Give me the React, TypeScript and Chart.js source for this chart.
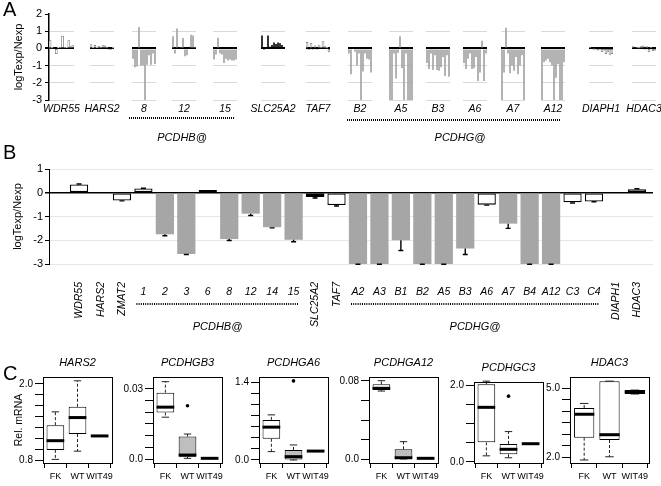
import React, { useEffect, useRef } from 'react';
import { Chart, registerables } from 'chart.js';

Chart.register(...registerables);
const FONT = '"Liberation Sans", Arial, Helvetica, sans-serif';
Chart.defaults.font.family = FONT;
Chart.defaults.color = '#000';

// ---------------- Panel A data ----------------
const groupsA = ['WDR55', 'HARS2', '8', '12', '15', 'SLC25A2', 'TAF7', 'B2', 'A5', 'B3', 'A6', 'A7', 'A12', 'DIAPH1', 'HDAC3'];
const kindA = ['outline', 'outline', 'gray', 'gray', 'gray', 'black', 'outline', 'gray', 'gray', 'gray', 'gray', 'gray', 'gray', 'outline', 'outline'];
const wdr55A = [0.45, 0.02, 0.0, -0.3, 0.03, 0.05, 0.72, 0.05, 0.04, 0.45, 0.1, 0.2];
const hars2A = [0.22, 0.04, 0.18, 0.03, 0.12, 0.05, 0.2, 0.15, 0.05, -0.05, -0.08, 0.02];
const pcdhb8A = [-0.6, -1.1, -1.05, 1.25, -1.0, -1.0, -3.0, -0.95, -0.4, -0.95, -0.3, -0.9];
const pcdhb12A = [0.7, -0.3, 1.15, 0.05, 0.03, 0.6, -0.45, -0.4, 0.05, 0.8, 0.75, 0.02];
const pcdhb15A = [-0.65, -0.35, 0.62, -0.3, -0.35, -0.85, -0.6, -0.7, -0.65, -0.7, -0.7, -0.65];
const slc25a2A = [0.75, -0.1, 0.02, 0.75, 0.1, 0.2, 0.35, 0.25, 0.35, 0.3, 0.2, 0.05];
const taf7A = [0.35, -0.08, 0.3, -0.05, 0.15, -0.05, 0.2, 0.05, 0.4, 0.1, 0.02, -0.2];
const pcdhgB2A = [-0.3, -1.5, 0.05, -0.2, -1.0, -0.3, -3.0, -1.35, -0.3, -0.6, -0.65, -1.4];
const pcdhgA5A = [-3.0, -3.0, -0.3, -1.75, -0.25, 0.7, -1.15, -3.0, -0.3, -3.0, -3.0, -3.0];
const pcdhgB3A = [-0.85, -1.2, -0.3, -1.25, -0.4, -1.25, -1.3, -1.1, -0.5, -1.6, -0.4, -1.65];
const pcdhgA6A = [-0.85, -1.2, -0.6, -0.3, -1.2, -1.15, -0.5, -1.9, -1.4, 0.45, -1.9, -0.3];
const pcdhgA7A = [-3.0, -1.4, 1.2, -0.3, -1.45, -1.0, -1.3, -0.5, -1.5, -1.0, -0.4, -3.0];
const pcdhgA12A = [-3.0, -0.8, -0.7, -0.6, -0.8, -1.0, -3.0, -1.7, -0.9, -3.0, -3.0, -0.8];
const diaph1A = [0.05, 0.0, -0.03, -0.05, -0.1, -0.05, -0.2, -0.1, -0.3, -0.2, -0.35, -0.3];
const hdac3A = [0.1, 0.0, 0.05, 0.02, 0.1, 0.15, -0.05, 0.1, -0.2, 0.05, -0.15, -0.1];
const valuesA = [wdr55A, hars2A, pcdhb8A, pcdhb12A, pcdhb15A, slc25a2A, taf7A, pcdhgB2A, pcdhgA5A, pcdhgB3A, pcdhgA6A, pcdhgA7A, pcdhgA12A, diaph1A, hdac3A];
const yTicksA = [2, 1, 0, -1, -2, -3];

// layout of panel A (pixels)
const groupLeftA = [49, 90, 132, 172, 213, 261, 306, 348, 389, 426, 463, 501, 541, 589, 632];
const GROUP_W = 24;
const PADX = 26;

// ---------------- Panel B data ----------------
const pcdhbB = ['1', '2', '3', '6', '8', '12', '14', '15'];
const pcdhgB = ['A2', 'A3', 'B1', 'B2', 'A5', 'B3', 'A6', 'A7', 'B4', 'A12', 'C3', 'C4'];
const geneB = ['WDR55', 'HARS2', 'ZMAT2', ...pcdhbB, 'SLC25A2', 'TAF7', ...pcdhgB, 'DIAPH1', 'HDAC3'];
const valueB = [0.35, 0.02, -0.33, 0.18, -1.75, -2.58, 0.12, -1.95, -0.88, -1.45, -1.98, -0.18, -0.52, -3, -3, -2.0, -3, -3, -2.35, -0.5, -1.3, -3, -3, -0.4, -0.37, 0.02, 0.15];
const errB = [0.02, 0, 0.01, 0.01, 0.06, 0.02, 0, 0.06, 0.08, 0.03, 0.08, 0.04, 0.04, 0.01, 0.01, 0.43, 0.01, 0.01, 0.25, 0.02, 0.2, 0.01, 0.01, 0.03, 0.01, 0, 0.02];
const kindB = ['o', 'o', 'o', 'o', 'g', 'g', 'o', 'g', 'g', 'g', 'g', 'k', 'o', 'g', 'g', 'g', 'g', 'g', 'g', 'o', 'g', 'g', 'g', 'o', 'o', 'o', 'o'];
const yTicksB = [1, 0, -1, -2, -3];

// ---------------- Panel C data ----------------
const groupsC = ['FK', 'WT', 'WIT49'];
// each row: [lower whisker, q1, median, q3, upper whisker]
const hars2C = [[0.81, 0.96, 1.105, 1.35, 1.56], [0.94, 1.21, 1.47, 1.64, 2.05], [1.18, 1.18, 1.18, 1.18, 1.18]];
const pcdhgb3C = [[0.0179, 0.0199, 0.0222, 0.0284, 0.0331], [0.0003, 0.001, 0.0017, 0.0096, 0.0107], [0.0003, 0.0003, 0.0003, 0.0003, 0.0003]];
const pcdhga6C = [[0.15, 0.38, 0.59, 0.72, 0.81], [0.0, 0.01, 0.06, 0.18, 0.27], [0.16, 0.16, 0.16, 0.16, 0.16]];
const pcdhga12C = [[0.0697, 0.0708, 0.0725, 0.0766, 0.0803], [0.0, 0.0, 0.0013, 0.0099, 0.0178], [0.0007, 0.0007, 0.0007, 0.0007, 0.0007]];
const pcdhgc3C = [[0.16, 0.51, 1.42, 2.02, 2.1], [0.11, 0.2, 0.33, 0.47, 0.79], [0.475, 0.475, 0.475, 0.475, 0.475]];
const hdac3C = [[1.87, 2.84, 3.86, 4.13, 4.33], [2.01, 2.74, 2.97, 5.3, 5.3], [4.74, 4.74, 4.83, 4.91, 4.91]];
// outliers: [group index, value]
const hars2Out: number[][] = [];
const pcdhgb3Out = [[1, 0.0228]];
const pcdhga6Out = [[1, 1.42]];
const pcdhga12Out: number[][] = [];
const pcdhgc3Out = [[1, 1.71]];
const hdac3Out: number[][] = [];
// y ticks
const hars2Ticks = [0.8, 0.971, 1.143, 1.314, 1.486, 1.657, 1.829, 2.0];
const hars2TickLabels = ['0.8', '', '', '', '', '', '', '2.0'];
const pcdhgb3Ticks = [0, 0.005, 0.01, 0.015, 0.02, 0.025, 0.03];
const pcdhgb3TickLabels = ['0.0', '', '', '', '', '', '0.03'];
const pcdhga6Ticks = [0, 0.2, 0.4, 0.6, 0.8, 1.0, 1.2, 1.4];
const pcdhga6TickLabels = ['0.0', '', '', '', '', '', '', '1.4'];
const pcdhga12Ticks = [0, 0.02, 0.04, 0.06, 0.08];
const pcdhga12TickLabels = ['0.0', '', '', '', '0.08'];
const pcdhgc3Ticks = [0, 0.5, 1.0, 1.5, 2.0];
const pcdhgc3TickLabels = ['0.0', '', '', '', '2.0'];
const hdac3Ticks = [2.0, 2.5, 3.0, 3.5, 4.0, 4.5, 5.0];
const hdac3TickLabels = ['2.0', '', '', '', '', '', '5.0'];

// ---------------- generic canvas ----------------
function ChartBox({ left, top, width, height, make }: any) {
  const ref = useRef<HTMLCanvasElement>(null);
  useEffect(() => {
    const chart = new Chart(ref.current as HTMLCanvasElement, make());
    return () => chart.destroy();
  }, []);
  return (
    <canvas
      ref={ref}
      width={width}
      height={height}
      style={{ position: 'absolute', left, top, width, height, display: 'block' }}
    />
  );
}

// ---------------- Panel A ----------------
function miniConfig(i: number) {
  const first = i === 0;
  const vals = valuesA[i];
  const kind = kindA[i];
  const fill = kind === 'black' ? '#000000' : kind === 'gray' ? '#a0a0a0' : '#ffffff';
  const border = kind === 'outline' ? '#707070' : fill;
  const labelPlugin = {
    id: 'groupLabel' + i,
    afterDraw(chart: any) {
      const { ctx, chartArea } = chart;
      ctx.save();
      ctx.font = `italic 10.5px ${FONT}`;
      ctx.fillStyle = '#000';
      ctx.textAlign = 'center';
      ctx.textBaseline = 'middle';
      ctx.fillText(groupsA[i], (chartArea.left + chartArea.right) / 2, 109);
      ctx.restore();
    },
  };
  return {
    type: 'bar',
    data: {
      labels: vals.map((_, j) => String(j + 1)),
      datasets: [{
        data: vals,
        backgroundColor: fill,
        borderColor: border,
        borderWidth: kind === 'outline' ? 0.7 : 0,
        borderSkipped: false,
        categoryPercentage: 1,
        barPercentage: kind === 'outline' ? 1 : 0.8,
      }],
    },
    options: {
      responsive: false,
      animation: false,
      layout: { padding: { left: first ? 0 : PADX, right: PADX, top: 14, bottom: 30 } },
      plugins: { legend: { display: false }, tooltip: { enabled: false } },
      scales: {
        x: { display: false },
        y: {
          min: -3,
          max: 2,
          afterBuildTicks: (s: any) => { s.ticks = yTicksA.map((v) => ({ value: v })); },
          afterFit: (s: any) => { s.width = first ? 49 : 0; },
          ticks: { display: first, font: { size: 11 }, padding: 3, color: '#000' },
          grid: {
            drawTicks: first,
            tickLength: 4,
            tickColor: '#000',
            color: (c: any) => (c.tick && c.tick.value === 0 ? '#000' : c.tick && c.tick.value === 2 ? 'rgba(0,0,0,0)' : '#d9d9d9'),
            lineWidth: (c: any) => (c.tick && c.tick.value === 0 ? 2 : 1),
          },
          border: { display: first, color: '#000', width: 1.5 },
          title: { display: first, text: 'logTexp/Nexp', font: { size: 11 }, padding: { top: 12, bottom: 0 }, color: '#000' },
        },
      },
    },
    plugins: [labelPlugin],
  };
}

function PanelA() {
  const famStyle: React.CSSProperties = {
    position: 'absolute', height: 2,
    background: 'repeating-linear-gradient(to right, #000 0px, #000 1px, transparent 1px, transparent 2px)',
  };
  const labStyle: React.CSSProperties = {
    position: 'absolute', fontStyle: 'italic', fontSize: 11, width: 100, textAlign: 'center', lineHeight: '14px',
  };
  return (
    <>
      {groupsA.map((g, i) => {
        const first = i === 0;
        const left = first ? 0 : groupLeftA[i] - PADX;
        const width = first ? groupLeftA[0] + GROUP_W + 1 + PADX : GROUP_W + 2 * PADX;
        return <ChartBox key={g} left={left} top={0} width={width} height={130} make={() => miniConfig(i)} />;
      })}
      <div style={{ ...famStyle, left: groupLeftA[2] - 3, width: groupLeftA[4] + GROUP_W - groupLeftA[2] + 1, top: 117 }} />
      <div style={{ ...labStyle, left: 182 - 50, top: 130 }}>PCDHB@</div>
      <div style={{ ...famStyle, left: groupLeftA[7] - 1, width: groupLeftA[12] + GROUP_W - groupLeftA[7] - 3, top: 119 }} />
      <div style={{ ...labStyle, left: 460 - 50, top: 130 }}>PCDHG@</div>
    </>
  );
}

// ---------------- Panel B ----------------
const B_TOP = 150;
function panelBConfig() {
  const fillOf = (k: string) => (k === 'g' ? '#a6a6a6' : k === 'k' ? '#000000' : '#ffffff');
  const errPlugin = {
    id: 'errB',
    afterDatasetsDraw(chart: any) {
      const { ctx, scales } = chart;
      const x = scales.x; const y = scales.y;
      ctx.save();
      ctx.strokeStyle = '#000';
      ctx.lineWidth = 1.4;
      valueB.forEach((v, i) => {
        const e = errB[i];
        if (!e) return;
        const px = x.getPixelForValue(i);
        const y0 = y.getPixelForValue(v);
        const y1 = y.getPixelForValue(v < 0 ? v - e : v + e);
        ctx.beginPath();
        ctx.moveTo(px, y0); ctx.lineTo(px, y1);
        ctx.moveTo(px - 2.5, y1); ctx.lineTo(px + 2.5, y1);
        ctx.stroke();
      });
      ctx.restore();
    },
  };
  const labelPlugin = {
    id: 'labelsB',
    afterDraw(chart: any) {
      const { ctx, scales } = chart;
      const x = scales.x;
      ctx.save();
      ctx.fillStyle = '#000';
      ctx.font = `italic 10.5px ${FONT}`;
      geneB.forEach((g, i) => {
        const px = x.getPixelForValue(i);
        const inFam = pcdhbB.includes(g) && i >= 3 && i <= 10 || pcdhgB.includes(g) && i >= 13;
        if (inFam) {
          ctx.textAlign = 'center';
          ctx.textBaseline = 'middle';
          ctx.fillText(g, px, 292 - B_TOP);
        } else {
          ctx.save();
          ctx.translate(px + 0.5, 282 - B_TOP);
          ctx.rotate(-Math.PI / 2);
          ctx.textAlign = 'right';
          ctx.textBaseline = 'middle';
          ctx.fillText(g, 0, 0);
          ctx.restore();
        }
      });
      const fams = [
        { name: 'PCDHB@', a: geneB.indexOf(pcdhbB[0]), b: geneB.lastIndexOf(pcdhbB[pcdhbB.length - 1]) },
        { name: 'PCDHG@', a: geneB.indexOf(pcdhgB[0]), b: geneB.indexOf(pcdhgB[pcdhgB.length - 1]) },
      ];
      fams.forEach((f) => {
        const x0 = x.getPixelForValue(f.a) - 7;
        const x1 = x.getPixelForValue(f.b) + 5;
        ctx.save();
        ctx.strokeStyle = '#000';
        ctx.lineWidth = 2;
        ctx.setLineDash([1, 1.2]);
        ctx.beginPath();
        ctx.moveTo(x0, 304 - B_TOP); ctx.lineTo(x1, 304 - B_TOP);
        ctx.stroke();
        ctx.restore();
        ctx.textAlign = 'center';
        ctx.textBaseline = 'middle';
        ctx.font = `italic 11px ${FONT}`;
        ctx.fillText(f.name, (x0 + x1) / 2, 327 - B_TOP);
        ctx.font = `italic 10.5px ${FONT}`;
      });
      ctx.restore();
    },
  };
  return {
    type: 'bar',
    data: {
      datasets: [{
        data: valueB.map((v, i) => ({ x: i, y: v })),
        backgroundColor: kindB.map(fillOf),
        borderColor: kindB.map((k) => (k === 'g' ? 'rgba(0,0,0,0)' : '#000')),
        borderWidth: kindB.map((k) => (k === 'o' ? 1.3 : 0)),
        borderSkipped: false,
        categoryPercentage: 1,
        barPercentage: 0.85,
      }],
    },
    options: {
      responsive: false,
      animation: false,
      layout: { padding: { top: 19, right: 8, bottom: 76, left: 0 } },
      plugins: { legend: { display: false }, tooltip: { enabled: false } },
      scales: {
        x: { type: 'linear', min: -1.4, max: 26.75, offset: false, display: false },
        y: {
          min: -3,
          max: 1,
          afterBuildTicks: (s: any) => { s.ticks = yTicksB.map((v) => ({ value: v })); },
          afterFit: (s: any) => { s.width = 49; },
          ticks: { font: { size: 11 }, padding: 2, color: '#000' },
          grid: {
            tickLength: 4,
            tickColor: '#000',
            color: (c: any) => (c.tick && c.tick.value === 0 ? '#000' : '#e6e6e6'),
            lineWidth: (c: any) => (c.tick && c.tick.value === 0 ? 1.5 : 1),
          },
          border: { color: '#000', width: 1 },
          title: { display: true, text: 'logTexp/Nexp', font: { size: 11 }, padding: { top: 11, bottom: 0 }, color: '#000' },
        },
      },
    },
    plugins: [errPlugin, labelPlugin],
  };
}

// ---------------- Panel C ----------------
const boxesC = [
  { title: 'HARS2', stats: hars2C, out: hars2Out, ticks: hars2Ticks, tickLabels: hars2TickLabels, grayWT: false },
  { title: 'PCDHGB3', stats: pcdhgb3C, out: pcdhgb3Out, ticks: pcdhgb3Ticks, tickLabels: pcdhgb3TickLabels, grayWT: true },
  { title: 'PCDHGA6', stats: pcdhga6C, out: pcdhga6Out, ticks: pcdhga6Ticks, tickLabels: pcdhga6TickLabels, grayWT: true },
  { title: 'PCDHGA12', stats: pcdhga12C, out: pcdhga12Out, ticks: pcdhga12Ticks, tickLabels: pcdhga12TickLabels, grayWT: true },
  { title: 'PCDHGC3', stats: pcdhgc3C, out: pcdhgc3Out, ticks: pcdhgc3Ticks, tickLabels: pcdhgc3TickLabels, grayWT: false },
  { title: 'HDAC3', stats: hdac3C, out: hdac3Out, ticks: hdac3Ticks, tickLabels: hdac3TickLabels, grayWT: false },
];
// layout: frame [left, top, width, height] and y-axis range
const frameC = [[43, 377, 69, 86], [153, 377, 69, 86], [259, 377, 69, 86], [369, 377, 69, 86], [474, 382, 69, 81], [570, 377, 79, 86]];
const rangeC = [[0.753, 2.11], [-0.0017, 0.0351], [-0.054, 1.49], [-0.0041, 0.0841], [-0.026, 2.078], [1.74, 5.48]];
const C_TOPPAD = 24;
const C_XH = 22;
const C_RPAD = 10;

function boxConfig(k: number, yW: number) {
  const b = boxesC[k];
  const fills = groupsC.map((_, i) => (i === 1 && b.grayWT ? '#bebebe' : '#ffffff'));
  const boxPlugin = {
    id: 'box' + k,
    afterDatasetsDraw(chart: any) {
      const { ctx, chartArea: ca, scales } = chart;
      const x = scales.x; const y = scales.y;
      const meta = chart.getDatasetMeta(0);
      ctx.save();
      b.stats.forEach((s, i) => {
        const cx = x.getPixelForValue(i + 1);
        const half = meta.data[i].width / 2;
        const cap = half * 0.42;
        ctx.strokeStyle = '#222';
        ctx.lineWidth = 1;
        ctx.setLineDash([3, 2]);
        ctx.beginPath();
        if (s[4] > s[3]) { ctx.moveTo(cx, y.getPixelForValue(s[3])); ctx.lineTo(cx, y.getPixelForValue(s[4])); }
        if (s[0] < s[1]) { ctx.moveTo(cx, y.getPixelForValue(s[1])); ctx.lineTo(cx, y.getPixelForValue(s[0])); }
        ctx.stroke();
        ctx.setLineDash([]);
        ctx.beginPath();
        if (s[4] > s[2]) { ctx.moveTo(cx - cap, y.getPixelForValue(s[4])); ctx.lineTo(cx + cap, y.getPixelForValue(s[4])); }
        if (s[0] < s[2]) { ctx.moveTo(cx - cap, y.getPixelForValue(s[0])); ctx.lineTo(cx + cap, y.getPixelForValue(s[0])); }
        ctx.stroke();
        ctx.strokeStyle = '#000';
        ctx.lineWidth = 3;
        ctx.beginPath();
        ctx.moveTo(cx - half, y.getPixelForValue(s[2]));
        ctx.lineTo(cx + half, y.getPixelForValue(s[2]));
        ctx.stroke();
      });
      ctx.strokeStyle = '#000';
      ctx.lineWidth = 1;
      ctx.strokeRect(Math.round(ca.left) + 0.5, Math.round(ca.top) + 0.5, Math.round(ca.width), Math.round(ca.height));
      ctx.fillStyle = '#000';
      ctx.font = `italic 11px ${FONT}`;
      ctx.textAlign = 'center';
      ctx.textBaseline = 'middle';
      ctx.fillText(b.title, (ca.left + ca.right) / 2, ca.top - 14);
      ctx.restore();
    },
  };
  return {
    type: 'bar',
    data: {
      datasets: [
        {
          type: 'bar',
          data: b.stats.map((s, i) => ({ x: i + 1, y: [s[1], s[3]] })),
          backgroundColor: fills,
          borderColor: '#000',
          borderWidth: 1,
          borderSkipped: false,
          categoryPercentage: 1,
          barPercentage: 0.8,
        },
        {
          type: 'scatter',
          data: b.out.map((o) => ({ x: o[0] + 1, y: o[1] })),
          pointRadius: 1.8,
          backgroundColor: '#000',
          borderWidth: 0,
        },
      ],
    },
    options: {
      responsive: false,
      animation: false,
      layout: { padding: { top: C_TOPPAD, right: C_RPAD, bottom: 2, left: 0 } },
      plugins: { legend: { display: false }, tooltip: { enabled: false } },
      scales: {
        x: {
          type: 'linear', min: 0.44, max: 3.56, offset: false,
          afterBuildTicks: (s: any) => { s.ticks = groupsC.map((_, i) => ({ value: i + 1 })); },
          afterFit: (s: any) => { s.height = C_XH; },
          ticks: { callback: (_v: any, i: number) => groupsC[i], font: { size: 9 }, padding: 3, maxRotation: 0, autoSkip: false, color: '#000' },
          grid: { drawOnChartArea: false, tickLength: 5, tickColor: '#000' },
          border: { display: false },
        },
        y: {
          min: rangeC[k][0], max: rangeC[k][1],
          afterBuildTicks: (s: any) => { s.ticks = b.ticks.map((v) => ({ value: v })); },
          afterFit: (s: any) => { s.width = yW; },
          ticks: { callback: (_v: any, i: number) => b.tickLabels[i], font: { size: 10 }, padding: 2, autoSkip: false, color: '#000' },
          grid: { drawOnChartArea: false, tickLength: 8, tickColor: '#000' },
          border: { display: false },
          title: { display: k === 0, text: 'Rel. mRNA', font: { size: 10.5 }, padding: { top: 13, bottom: 0 }, color: '#000' },
        },
      },
    },
    plugins: [boxPlugin],
  };
}

function PanelC() {
  return (
    <>
      {boxesC.map((b, k) => {
        const [fl, ft, fw, fh] = frameC[k];
        const yW = k === 0 ? fl : 40;
        return (
          <ChartBox
            key={b.title}
            left={fl - yW}
            top={ft - C_TOPPAD}
            width={yW + fw + C_RPAD}
            height={C_TOPPAD + fh + C_XH + 2}
            make={() => boxConfig(k, yW)}
          />
        );
      })}
    </>
  );
}

function Letter({ text, top }: { text: string; top: number }) {
  return (
    <div style={{ position: 'absolute', left: 3, top, fontSize: 20, fontFamily: FONT, color: '#000' }}>{text}</div>
  );
}

export default function App() {
  return (
    <div style={{ position: 'absolute', left: 0, top: 0, width: 661, height: 486, overflow: 'hidden', background: '#fff', fontFamily: FONT }}>
      <PanelA />
      <ChartBox left={0} top={B_TOP} width={661} height={190} make={panelBConfig} />
      <PanelC />
      <Letter text="A" top={-2} />
      <Letter text="B" top={141} />
      <Letter text="C" top={362} />
    </div>
  );
}
